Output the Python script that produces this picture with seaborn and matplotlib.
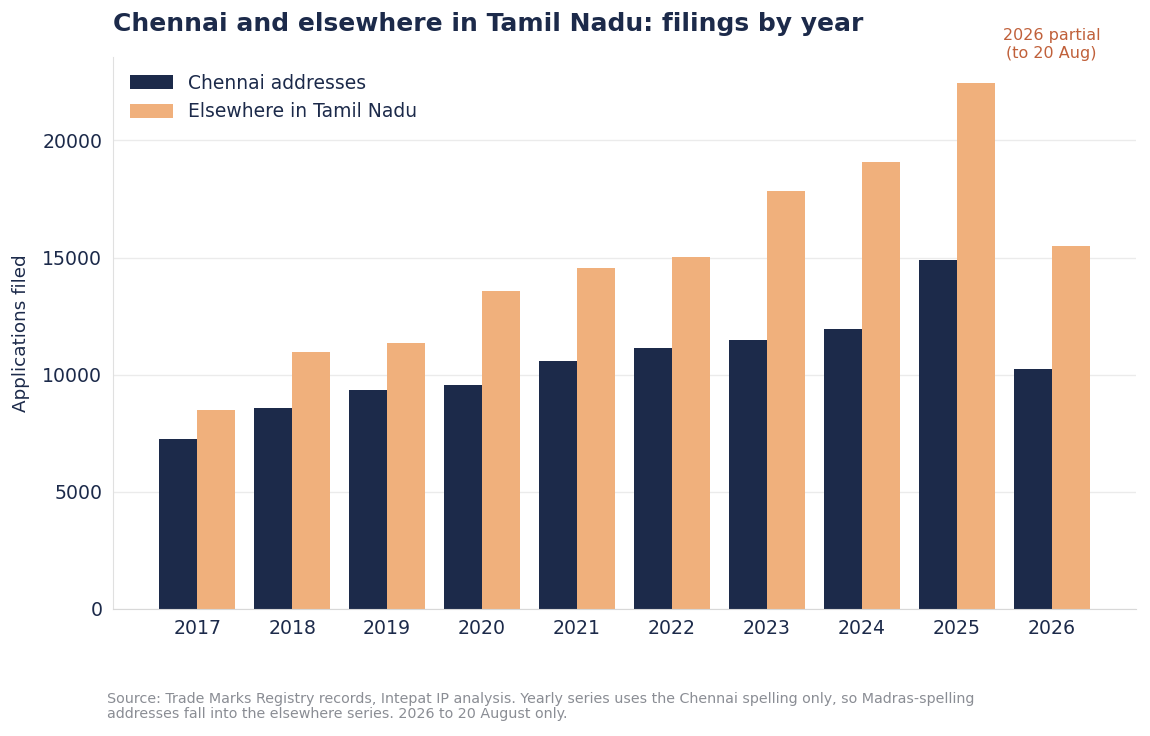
import pandas as pd
import matplotlib.pyplot as plt
import seaborn as sns

years = ["2017", "2018", "2019", "2020", "2021", "2022", "2023", "2024", "2025", "2026"]
chennai = [7260, 8590, 9360, 9570, 10600, 11150, 11500, 11970, 14900, 10260]
elsewhere = [8500, 10980, 11370, 13590, 14570, 15040, 17860, 19060, 22440, 15510]
series_names = ["Chennai addresses", "Elsewhere in Tamil Nadu"]

NAVY = "#1c2a4a"
ORANGE = "#f0b07c"

df = pd.DataFrame({
    "year": years * 2,
    "count": chennai + elsewhere,
    "series": [series_names[0]] * len(years) + [series_names[1]] * len(years),
})

sns.set_style("white")
plt.rcParams["font.family"] = ["DejaVu Sans"]

fig = plt.figure(figsize=(11.5, 7.36), dpi=100)
ax = fig.add_axes([0.098, 0.1726, 0.89, 0.75])

sns.barplot(data=df, x="year", y="count", hue="series",
            palette=[NAVY, ORANGE], width=0.8, saturation=1, linewidth=0, ax=ax)

ax.set_xlim(-0.89, 9.89)
ax.set_ylim(0, max(elsewhere) * 1.05)
ax.yaxis.grid(True, color="#ebebeb", linewidth=1)
ax.set_axisbelow(True)

for s in ["top", "right"]:
    ax.spines[s].set_visible(False)
ax.spines["left"].set_color("#e0e0e0")
ax.spines["bottom"].set_color("#d8d8d8")

ax.tick_params(axis="both", labelsize=13.6, colors="#333333", labelcolor=NAVY, length=4, width=0.8)
ax.set_xlabel("")
ax.set_ylabel("Applications filed", fontsize=13.2, color=NAVY, labelpad=9)

leg = ax.legend(loc="upper left", frameon=False, fontsize=13.5,
                handlelength=2.3, handleheight=0.8, bbox_to_anchor=(0.0, 1.0))
for t in leg.get_texts():
    t.set_color(NAVY)

ax.text(9, 24100, "2026 partial\n(to 20 Aug)", ha="center", va="center",
        fontsize=11.5, color="#c0603a", clip_on=False)

fig.text(0.098, 0.968, "Chennai and elsewhere in Tamil Nadu: filings by year",
         fontsize=18, fontweight="bold", color=NAVY, ha="left", va="center")

fig.text(0.093, 0.04, "Source: Trade Marks Registry records, Intepat IP analysis. Yearly series uses the Chennai spelling only, so Madras-spelling\naddresses fall into the elsewhere series. 2026 to 20 August only.",
         fontsize=10.3, color="#8a8d94", ha="left", va="center", linespacing=1.1)

fig.savefig("out.png", dpi=100)
